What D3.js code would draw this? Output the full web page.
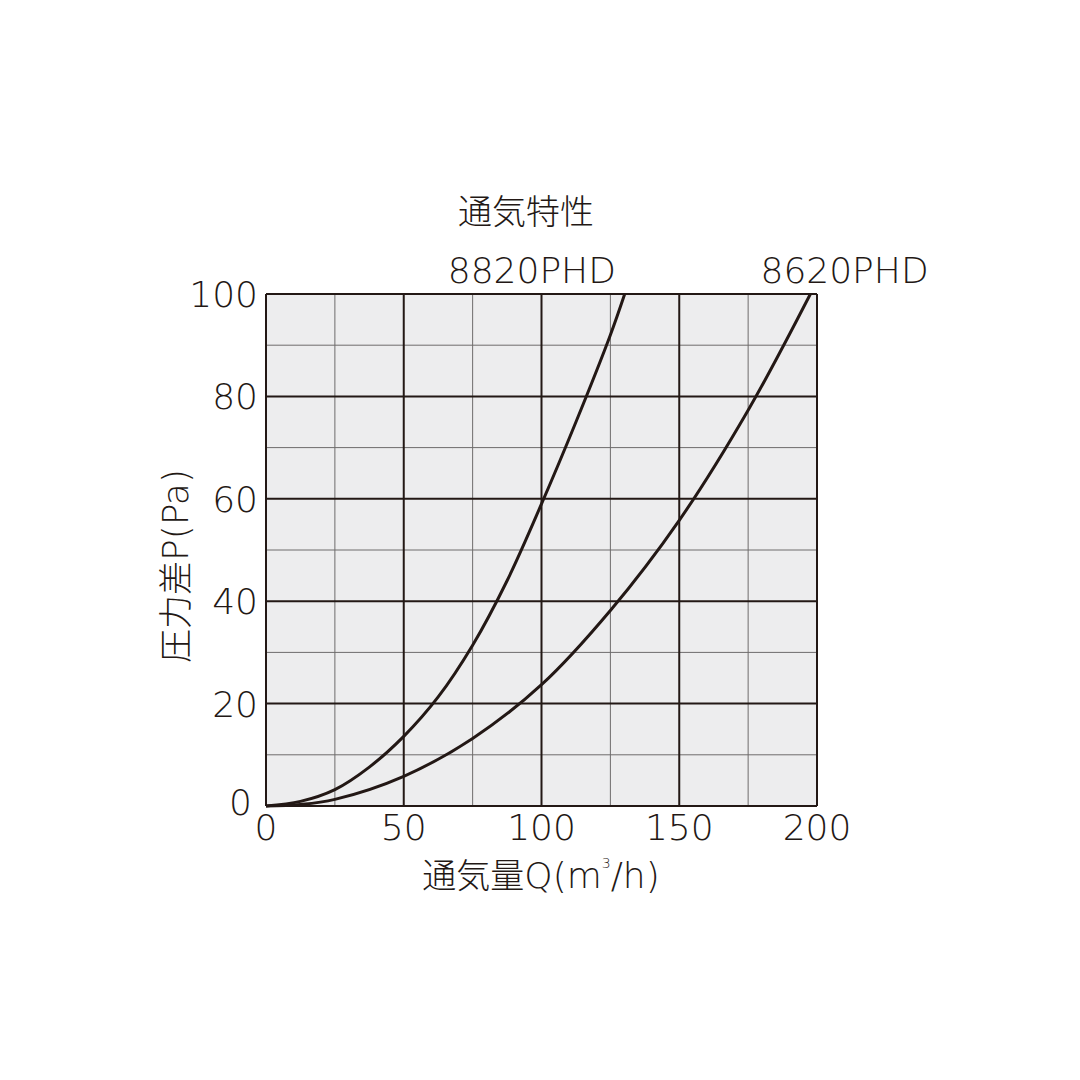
<!DOCTYPE html>
<html>
<head>
<meta charset="utf-8">
<script src="https://cdn.jsdelivr.net/npm/d3@7"></script>
<style>
  html, body { margin: 0; padding: 0; background: #fff; }
  text { font-family: "DejaVu Sans", "Noto Sans CJK JP", sans-serif; font-weight: 200; fill: #231815; }
  text .jp, text.jp { font-family: "Noto Sans CJK JP", sans-serif; font-weight: 300; }
</style>
</head>
<body>
<script>
// values
const q8820 = [0, 12.5, 25, 37.5, 50, 62.5, 75, 87.5, 100, 112.5, 125, 130.2]
const p8820 = [0, 0.9, 3.2, 7.6, 13.6, 21.3, 31.4, 44, 59, 75, 92, 100]
const q8620 = [0, 12.5, 25, 50, 75, 100, 125, 150, 175, 197.6]
const p8620 = [0, 0.3, 1.3, 5.8, 13.2, 23.7, 38.2, 55.8, 77.3, 100]
const xTicks = [0, 50, 100, 150, 200]
const yTicks = [0, 20, 40, 60, 80, 100]
const xMinor = [25, 75, 125, 175]
const yMinor = [10, 30, 50, 70, 90]
const seriesNames = ["8820PHD", "8620PHD"]

const W = 1080, H = 1080
const m = { left: 266, top: 294, right: 263, bottom: 274 }
const iw = W - m.left - m.right
const ih = H - m.top - m.bottom
const ink = "#231815"

const svg = d3.select("body").append("svg")
  .attr("width", W)
  .attr("height", H)

const x = d3.scaleLinear().domain([0, 200]).range([m.left, m.left + iw])
const y = d3.scaleLinear().domain([0, 100]).range([m.top + ih, m.top])

svg.append("rect")
  .attr("x", x(0)).attr("y", y(100))
  .attr("width", iw).attr("height", ih)
  .attr("fill", "#ededee")

// minor grid
svg.append("g").selectAll("line")
  .data(xMinor)
  .join("line")
  .attr("x1", d => x(d)).attr("x2", d => x(d))
  .attr("y1", y(0)).attr("y2", y(100))
  .attr("stroke", "#6e6c6c").attr("stroke-width", 1)
svg.append("g").selectAll("line")
  .data(yMinor)
  .join("line")
  .attr("y1", d => y(d)).attr("y2", d => y(d))
  .attr("x1", x(0)).attr("x2", x(200))
  .attr("stroke", "#6e6c6c").attr("stroke-width", 1)

// major grid
svg.append("g").selectAll("line")
  .data(xTicks)
  .join("line")
  .attr("x1", d => x(d)).attr("x2", d => x(d))
  .attr("y1", y(0)).attr("y2", y(100))
  .attr("stroke", ink).attr("stroke-width", 2)
svg.append("g").selectAll("line")
  .data(yTicks)
  .join("line")
  .attr("y1", d => y(d)).attr("y2", d => y(d))
  .attr("x1", x(0)).attr("x2", x(200))
  .attr("stroke", ink).attr("stroke-width", 2)

// curves
const line = d3.line()
  .x(d => x(d[0]))
  .y(d => y(d[1]))
  .curve(d3.curveCatmullRom.alpha(0.5))

const series = [
  d3.zip(q8820, p8820),
  d3.zip(q8620, p8620),
]
svg.append("g").selectAll("path")
  .data(series)
  .join("path")
  .attr("fill", "none")
  .attr("stroke", ink)
  .attr("stroke-width", 3)
  .attr("d", line)

// tick labels
svg.append("g").selectAll("text")
  .data(xTicks)
  .join("text")
  .attr("x", d => x(d))
  .attr("y", y(0) + 34)
  .attr("text-anchor", "middle")
  .attr("font-size", 36)
  .text(d => d)
svg.append("g").selectAll("text")
  .data(yTicks)
  .join("text")
  .attr("x", d => d === 0 ? x(0) - 14 : x(0) - 8)
  .attr("y", d => d === 0 ? y(d) + 9 : y(d) + 13)
  .attr("text-anchor", "end")
  .attr("font-size", 36)
  .text(d => d)

// series labels above the top edge
const labelAt = [x(96.5), x(210)]
svg.append("g").selectAll("text")
  .data(seriesNames)
  .join("text")
  .attr("x", (d, i) => labelAt[i])
  .attr("y", y(100) - 11)
  .attr("text-anchor", "middle")
  .attr("font-size", 36)
  .text(d => d)

// title
svg.append("text")
  .attr("class", "jp")
  .attr("x", 526).attr("y", 224)
  .attr("text-anchor", "middle")
  .attr("font-size", 34)
  .text("通気特性")

// x title
const xt = svg.append("text")
  .attr("x", 541).attr("y", 888)
  .attr("text-anchor", "middle")
  .attr("font-size", 36)
xt.append("tspan").attr("class", "jp").attr("font-size", 34).text("通気量")
xt.append("tspan").text("Q(m")
xt.append("tspan").attr("font-size", 14).attr("dy", -20).text("3")
xt.append("tspan").attr("dy", 20).text("/h)")

// y title
const yt = svg.append("text")
  .attr("transform", `translate(188,${y(50) + 16}) rotate(-90)`)
  .attr("text-anchor", "middle")
  .attr("font-size", 36)
yt.append("tspan").attr("class", "jp").attr("font-size", 34).text("圧力差")
yt.append("tspan").text("P(Pa)")
</script>
</body>
</html>
